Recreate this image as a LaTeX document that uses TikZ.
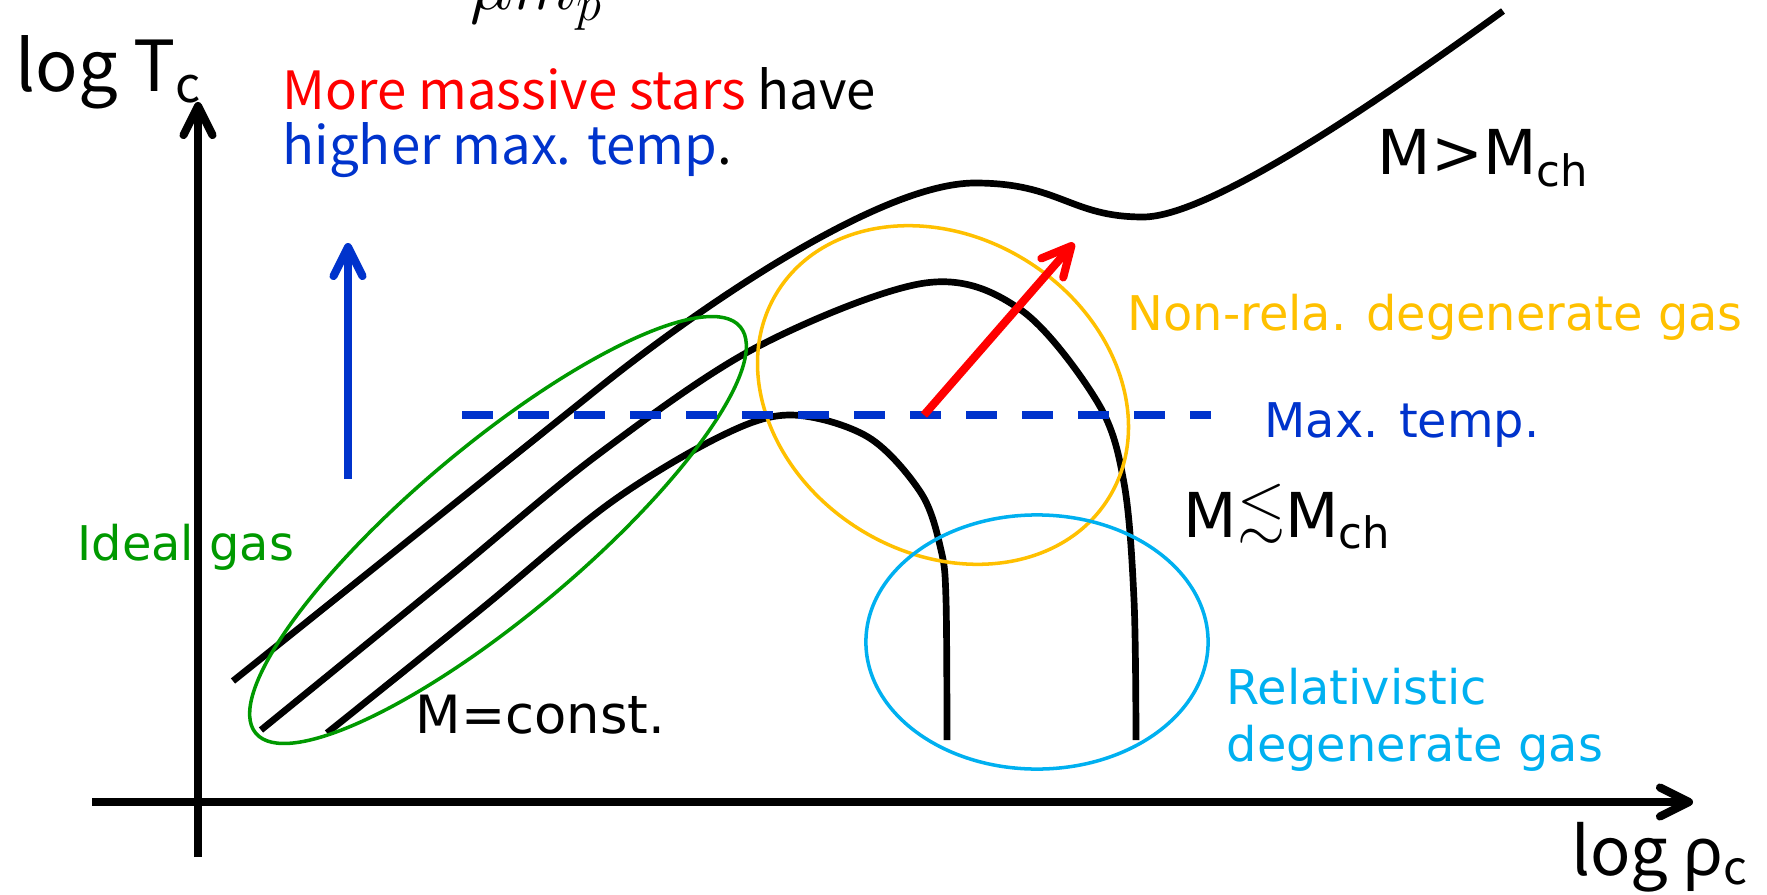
\documentclass[tikz,border=0pt]{standalone}
\usepackage{amsmath,amssymb}
\usepackage{fontspec}
\setmainfont{DejaVu Sans}
\newfontfamily\jpfont{Noto Sans CJK JP}
\newfontfamily\grkfont{Noto Sans}
\usetikzlibrary{arrows.meta}
\definecolor{tempblue}{RGB}{0,51,204}
\definecolor{idealgreen}{RGB}{0,153,0}
\definecolor{nrorange}{RGB}{255,192,0}
\definecolor{relcyan}{RGB}{0,176,240}
\newcommand{\lblsize}{\fontsize{13.6}{16}\selectfont}
\newcommand{\msize}{\fontsize{17.6}{21}\selectfont}
\newcommand{\axsize}{\jpfont\fontsize{20}{24}\selectfont}
\newcommand{\notesize}{\jpfont\fontsize{15}{18}\selectfont}
\begin{document}
\begin{tikzpicture}[x=0.01cm,y=-0.01cm,
  axis/.style={line width=2.3pt,-{Straight Barb[length=2.9mm,width=2.9mm,round]}},
  track/.style={line width=1.9pt},
  region/.style={line width=1pt},
  lbl/.style={anchor=base west,inner sep=0pt}]
  \useasboundingbox (0,0) rectangle (1767,894);

  % ---- axes ----
  \coordinate (xl) at (92,802);
  \coordinate (xr) at (1693,802);
  \coordinate (yb) at (198,857);
  \coordinate (yt) at (198,102);
  \draw[axis] (xl) -- (xr);
  \draw[axis] (yb) -- (yt);
  \node[lbl,font=\axsize] (ylab) at (15,92) {log T\textsubscript{c}};
  \node[lbl,anchor=base east,font=\axsize\fontsize{19}{23}\selectfont] (xlab) at (1750,875)
    {log {\grkfont ρ}\textsubscript{c}};

  % ---- clipped formula fragment at the top ----
  \node[lbl,font=\fontsize{19.5}{22}\selectfont] (frag) at (470,10) {$\mu m_p$};

  % ---- tracks of constant mass ----
  \draw[track] (233,681) -- (600,387) .. controls (700,307) and (880,183) .. (975,183)
    .. controls (1060,183) and (1070,217) .. (1143,217)
    .. controls (1210,217) and (1380,100) .. (1503,11);
  \draw[track] plot[smooth,tension=0.55] coordinates {(261,730) (450,576) (600,453) (757,347)
    (925,283) (1021,310) (1098,403) (1124,483) (1134,600) (1136,740)};
  \draw[track] plot[smooth,tension=0.55] coordinates {(327,733) (480,610) (610,503) (721,436)
    (791,415) (868,437) (921,493) (941,550) (946,600) (947,740)};

  % ---- gas regimes ----
  \draw[region,idealgreen,rotate around={40:(498,530)}] (498,530) ellipse [x radius=3.16cm,y radius=0.85cm];
  \draw[region,nrorange,rotate around={-32:(943,395)}] (943,395) ellipse [x radius=1.95cm,y radius=1.58cm];
  \draw[region,relcyan] (1037,642) ellipse [x radius=1.71cm,y radius=1.27cm];

  % ---- max. temperature ----
  \coordinate (dl) at (462,415);
  \coordinate (dr) at (1211,415);
  \draw[tempblue,line width=2.2pt,dash pattern=on 0.31cm off 0.25cm] (dl) -- (dr);
  \coordinate (rb) at (924,415);
  \coordinate (rt) at (1074,243);
  \draw[red,axis] (rb) -- (rt);
  \coordinate (bb) at (348,479);
  \coordinate (bt) at (348,243);
  \draw[tempblue,axis] (bb) -- (bt);

  % ---- labels ----
  \node[lbl,font=\notesize] (note1) at (282,110) {\textcolor{red}{More massive stars} have};
  \node[lbl,font=\notesize] (note2) at (282,165) {\textcolor{tempblue}{higher max. temp}.};
  \node[lbl,font=\msize] (mbig) at (1377,175) {M>M\textsubscript{ch}};
  \node[lbl,font=\lblsize,nrorange] (nrel) at (1127,330) {Non-rela. degenerate gas};
  \node[lbl,font=\lblsize,tempblue] (tmax) at (1264,437) {Max. temp.};
  \node[lbl,font=\msize] (mless) at (1183,537) {M\raisebox{0.12em}{$\lesssim$}M\textsubscript{ch}};
  \node[lbl,font=\lblsize,idealgreen] (ideal) at (77,560) {Ideal gas};
  \node[lbl,font=\fontsize{15}{18}\selectfont] (mconst) at (415,733) {M=const.};
  \node[lbl,font=\lblsize,relcyan] (rel1) at (1226,704) {Relativistic};
  \node[lbl,font=\lblsize,relcyan] (rel2) at (1226,761) {degenerate gas};
\end{tikzpicture}
\end{document}
